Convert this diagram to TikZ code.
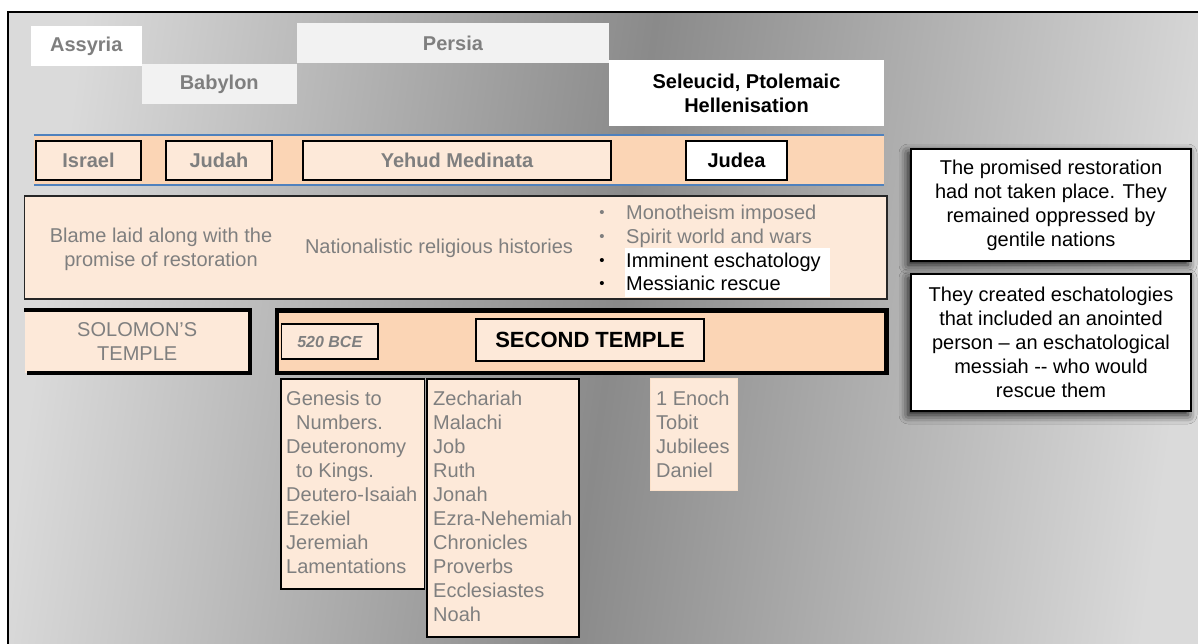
\documentclass[tikz,border=0pt]{standalone}
\usepackage{fontspec}
\setmainfont{Liberation Sans}
\usetikzlibrary{shadows.blur}
\definecolor{peach}{HTML}{FBD5B5}
\definecolor{peachlt}{HTML}{FDE9D9}
\definecolor{greytxt}{HTML}{7F7F7F}
\definecolor{eragrey}{HTML}{F2F2F2}
\definecolor{bandline}{HTML}{4F81BD}
\definecolor{bglight}{HTML}{DADADA}
\definecolor{bgdark}{HTML}{8A8A8A}
\pgfdeclarehorizontalshading{slidebg}{100bp}{color(0bp)=(bglight); color(25bp)=(bglight);
  color(50bp)=(bgdark); color(75bp)=(bglight); color(100bp)=(bglight)}

\begin{document}
\begin{tikzpicture}[x=1pt, y=-1pt,
  txt/.style={font=\fontsize{20}{24}\selectfont, inner sep=0pt},
  era/.style={txt, font=\fontsize{20}{24}\selectfont\bfseries, text=greytxt, minimum height=40},
  cell/.style={era, draw=black, line width=1.5pt, fill=peachlt, minimum height=39},
  themebox/.style={draw=black!85, line width=1.5pt, fill=peachlt},
  booklist/.style={draw=black, line width=1.5pt, fill=peachlt, anchor=north west},
  bookitem/.style={txt, text=greytxt, anchor=base west},
  notebox/.style={txt, draw=black, line width=1.5pt, fill=white, align=center,
    blur shadow={shadow xshift=-3pt, shadow yshift=-4pt, shadow blur radius=9pt,
      shadow opacity=90}}]
  \useasboundingbox (0,0) rectangle (1198,643);
  \clip (0,0) rectangle (1198,643);
  \path[shade, shading=slidebg, shading angle=-8, draw=black, line width=2pt] (8,12) rectangle (1215,660);

  % empires
  \node[era, fill=white, minimum width=110.5] (assyria) at (86.25,46) {Assyria};
  \node[era, fill=eragrey, minimum width=155.5] (babylon) at (219.25,84.25) {Babylon};
  \node[era, fill=eragrey, minimum width=312] (persia) at (453,43) {Persia};
  \node[era, fill=white, text=black, align=center, minimum width=275, minimum height=66]
    (seleucid) at (746.5,93) {Seleucid, Ptolemaic\\Hellenisation};

  % states
  \fill[peach] (34,135) rectangle (884,185);
  \draw[bandline, line width=1.2pt] (34,135) -- (884,135) (34,185) -- (884,185);
  \node[cell, minimum width=105] (israel) at (88.5,160.5) {Israel};
  \node[cell, minimum width=106] (judah) at (219,160.5) {Judah};
  \node[cell, minimum width=308] (yehud) at (457,160.5) {Yehud Medinata};
  \node[cell, fill=white, text=black, minimum width=101] (judea) at (736.5,160.5) {Judea};

  % themes
  \node[themebox, minimum width=862.5, minimum height=103] (themes) at (455.75,247.5) {};
  \node[txt, text=greytxt, align=center] (blame) at (161,249) {Blame laid along with the\\promise of restoration};
  \node[txt, text=greytxt] (histories) at (439,248) {Nationalistic religious histories};
  \fill[white] (625,248) rectangle (830,297);
  \foreach \t/\c [count=\i] in {Monotheism imposed/greytxt, Spirit world and wars/greytxt,
      Imminent eschatology/black, Messianic rescue/black} {
    \node[txt, font=\fontsize{15}{18}\selectfont, text=\c, anchor=base] (dot\i) at (602,194+23.7*\i) {•};
    \node[txt, text=\c, anchor=base west] (theme\i) at (626,196+23.7*\i) {\t};
  }

  % temples
  \node[fill=peachlt, minimum width=225.5, minimum height=62.5, inner sep=0pt] (solomon) at (137.25,341.25) {};
  \draw[line width=4pt] (solomon.north west) -- (solomon.north east) -- (solomon.south east) -- ([xshift=3pt]solomon.south west);
  \node[txt, text=greytxt, align=center] (solomontxt) at (solomon) {SOLOMON’S\\TEMPLE};
  \node[draw=black, line width=4.5pt, fill=peach, minimum width=609.5, minimum height=62.5] (temple) at (581.75,341.75) {};
  \node[draw=black, line width=1.5pt, fill=peachlt, minimum width=96.5, minimum height=35, inner sep=0pt,
    font=\fontsize{16}{19}\selectfont\bfseries\itshape, text=greytxt] (bce) at (329.75,341.5) {520 BCE};
  \node[draw=black, line width=1.5pt, fill=peachlt, minimum width=228, minimum height=42, inner sep=0pt,
    font=\fontsize{22}{26}\selectfont\bfseries] (second) at (590,340) {SECOND TEMPLE};

  % writings
  \node[booklist, minimum width=143.5, minimum height=210] (list1) at (280,378) {};
  \node[booklist, minimum width=152, minimum height=258] (list2) at (426,378) {};
  \node[booklist, draw=peach!70!white, line width=0.8pt, minimum width=86.5, minimum height=112] (list3) at (650,378) {};
  \foreach \x/\t [count=\i] in {286/Genesis to, 296/Numbers., 286/Deuteronomy, 296/to Kings.,
      286/Deutero-Isaiah, 286/Ezekiel, 286/Jeremiah, 286/Lamentations}
    \node[bookitem] (first\i) at (\x,381+24*\i) {\t};
  \foreach \t [count=\i] in {Zechariah, Malachi, Job, Ruth, Jonah, Ezra-Nehemiah,
      Chronicles, Proverbs, Ecclesiastes, Noah}
    \node[bookitem] (second\i) at (433,381+24*\i) {\t};
  \foreach \t [count=\i] in {1 Enoch, Tobit, Jubilees, Daniel}
    \node[bookitem] (third\i) at (656,381+24*\i) {\t};

  % notes
  \node[notebox, minimum width=280, minimum height=112] (restoration) at (1051,205)
    {The promised restoration\\had not taken place. They\\remained oppressed by\\gentile nations};
  \node[notebox, minimum width=280, minimum height=137] (messiah) at (1051,342.5)
    {They created eschatologies\\that included an anointed\\person -- an eschatological\\messiah -{}- who would\\rescue them};
\end{tikzpicture}
\end{document}
